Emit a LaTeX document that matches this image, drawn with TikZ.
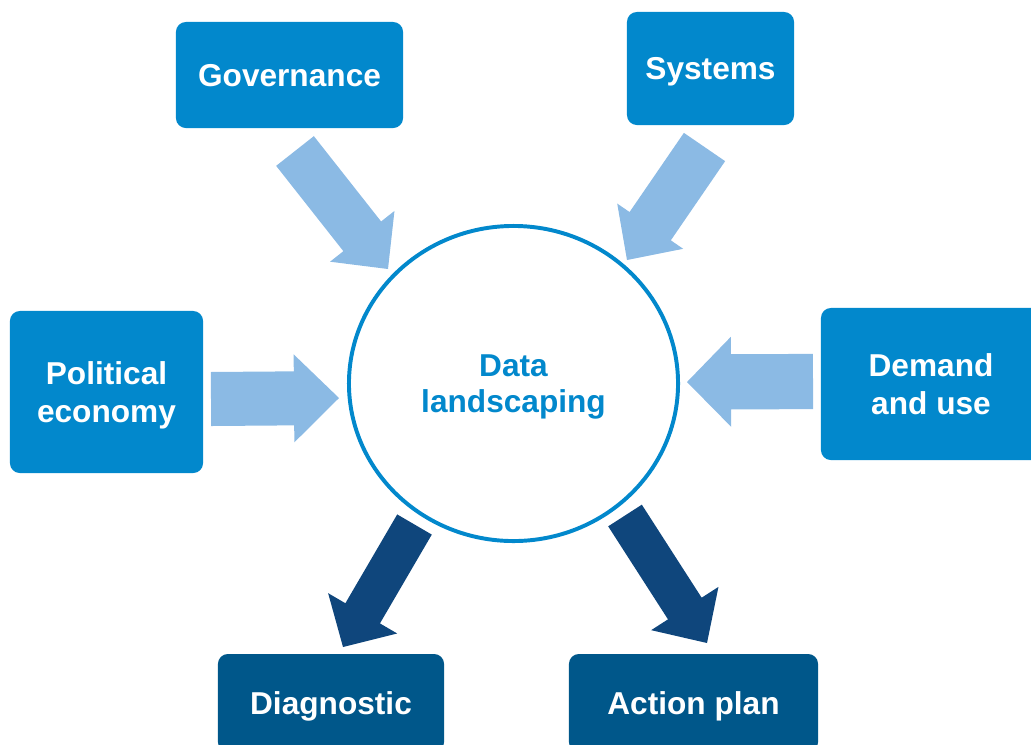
\documentclass[tikz,border=0pt]{standalone}
\usepackage{fontspec}
\setmainfont{Liberation Sans}
\usetikzlibrary{calc, shapes.geometric}

\definecolor{boxblue}{HTML}{0288CC}
\definecolor{boxdark}{HTML}{00578A}
\definecolor{arrowlight}{HTML}{8BBAE4}
\definecolor{arrowdark}{HTML}{0F467C}

% a block arrow: tail, tip, half shaft, half head, head length, colour
\newcommand{\blockarrow}[6]{
  \coordinate (#1base) at ($(#2)!#5!(#1)$);
  \fill[#6] ($(#1)!#3!90:(#2)$) -- ($(#1base)!#3!90:(#2)$) -- ($(#1base)!#4!90:(#2)$)
    -- (#2) -- ($(#1base)!#4!-90:(#2)$) -- ($(#1base)!#3!-90:(#2)$) -- ($(#1)!#3!-90:(#2)$) -- cycle;
}

\begin{document}
\begin{tikzpicture}[x=0.025cm, y=-0.025cm,
  box/.style={rectangle, rounded corners=7pt, fill=boxblue, text=white, align=center,
    inner sep=0pt, text depth=0pt, font=\bfseries\fontsize{22.5}{26.5}\selectfont},
  darkbox/.style={box, fill=boxdark}]
\useasboundingbox (0,0) rectangle (1031,744);
\clip (0,0) rectangle (1031,744);

% the centre
\node[ellipse, draw=boxblue, line width=2.8pt, minimum width=8.225cm, minimum height=7.875cm,
  inner sep=0pt, text depth=0pt, text=boxblue, align=center,
  font=\bfseries\fontsize{22.5}{25.6}\selectfont]
  (data) at (513.5,383.5) {Data\\landscaping};

% the boxes
\node[box, minimum width=5.675cm, minimum height=2.65cm] (gov) at (289.5,75) {Governance};
\node[box, minimum width=4.175cm, minimum height=2.825cm] (sys) at (710.5,68.5) {Systems};
\node[box, minimum width=4.825cm, minimum height=4.05cm] (pol) at (106.5,392) {Political\\economy};
\node[box, minimum width=5.5cm, minimum height=3.8cm] (dem) at (931,384) {Demand\\and use};
\node[darkbox, minimum width=5.65cm, minimum height=2.45cm] (diag) at (331,703) {Diagnostic};
\node[darkbox, minimum width=6.225cm, minimum height=2.45cm] (act) at (693.5,703) {Action plan};

% the arrow ends
\coordinate (govT) at (295,151);
\coordinate (govH) at (388,269);
\coordinate (sysT) at (704.5,147);
\coordinate (sysH) at (627,260);
\coordinate (polT) at (211,399);
\coordinate (polH) at (339,398);
\coordinate (demT) at (813,381.5);
\coordinate (demH) at (687,382);
\coordinate (diagT) at (414.5,524.5);
\coordinate (diagH) at (343,647);
\coordinate (actT) at (625,515.5);
\coordinate (actH) at (707,643);

% inputs
\blockarrow{govT}{govH}{0.6cm}{1.025cm}{1.04cm}{arrowlight}
\blockarrow{sysT}{sysH}{0.625cm}{1.0cm}{1.025cm}{arrowlight}
\blockarrow{polT}{polH}{0.675cm}{1.1cm}{1.125cm}{arrowlight}
\blockarrow{demT}{demH}{0.69cm}{1.125cm}{1.1cm}{arrowlight}
% outputs
\blockarrow{diagT}{diagH}{0.5cm}{1.0cm}{0.975cm}{arrowdark}
\blockarrow{actT}{actH}{0.5cm}{1.0cm}{1.025cm}{arrowdark}
\end{tikzpicture}
\end{document}
